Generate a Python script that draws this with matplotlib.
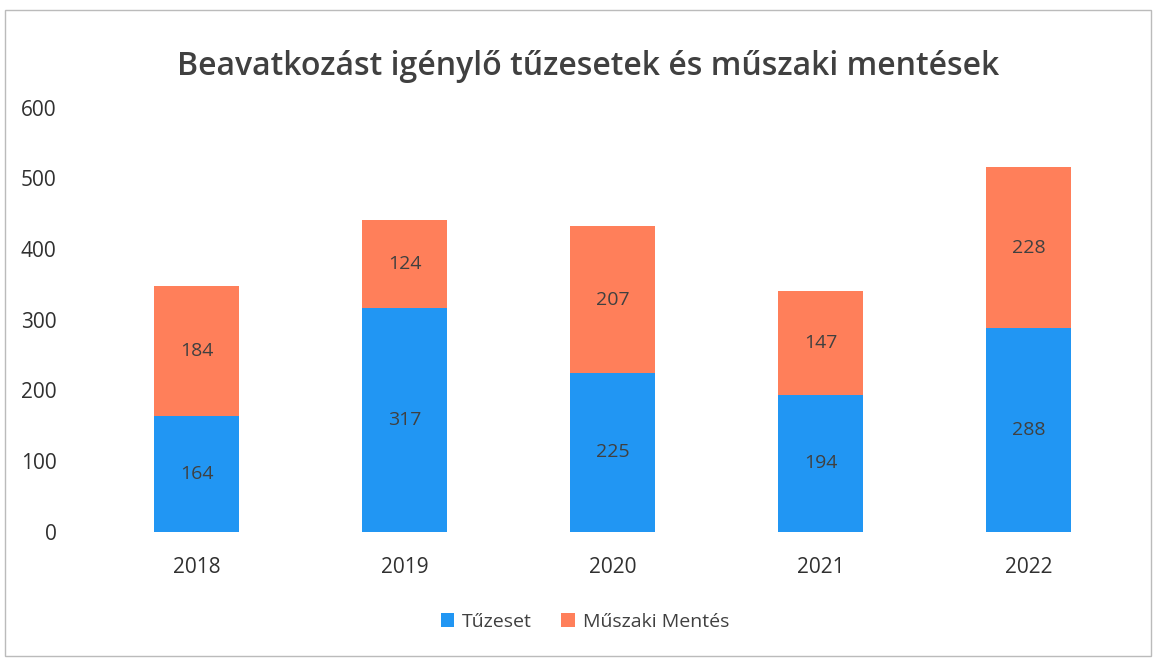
import matplotlib.pyplot as plt
import numpy as np

years = ["2018", "2019", "2020", "2021", "2022"]
tuzeset = [164, 317, 225, 194, 288]
muszaki = [184, 124, 207, 147, 228]

plt.rcParams['font.family'] = ['Open Sans', 'DejaVu Sans']

fig = plt.figure(figsize=(11.58, 6.63), dpi=100)
ax = fig.add_axes([0.080, 0.198, 0.898, 0.6395])

x = np.arange(len(years))
w = 0.41
b1 = ax.bar(x, tuzeset, w, color="#2196F3", label="Tűzeset")
b2 = ax.bar(x, muszaki, w, bottom=tuzeset, color="#FF7F5A", label="Műszaki Mentés")

for bars in (b1, b2):
    ax.bar_label(bars, label_type="center", fontsize=14, color="#404040")

ax.set_xlim(-0.5, 4.5)
ax.set_ylim(0, 600)
ax.set_yticks(range(0, 601, 100))
ax.set_xticks(x)
ax.set_xticklabels(years)
ax.tick_params(axis="y", length=0, pad=26, labelsize=15, labelcolor="#303030")
ax.tick_params(axis="x", length=0, pad=18, labelsize=15, labelcolor="#303030")
for s in ax.spines.values():
    s.set_visible(False)

fig.text(0.508, 0.90, "Beavatkozást igénylő tűzesetek és műszaki mentések",
         ha="center", va="center", fontsize=23, fontweight="semibold", color="#404040")

fig.legend(loc="center", bbox_to_anchor=(0.505, 0.062), ncol=2, frameon=False,
           fontsize=14, handlelength=0.7, handleheight=0.7, columnspacing=1.5,
           handletextpad=0.4, labelcolor="#404040")

fig.patches.append(plt.Rectangle((0.004, 0.01), 0.99, 0.975, transform=fig.transFigure,
                                 fill=False, edgecolor="#bbbbbb", lw=1))

fig.savefig("out.png", dpi=100)
